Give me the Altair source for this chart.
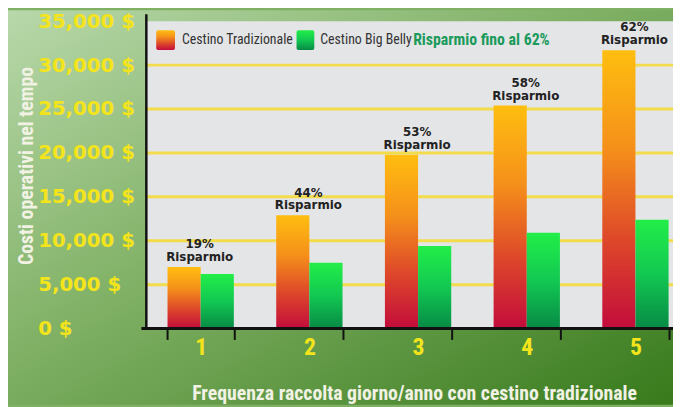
import altair as alt
import pandas as pd

# ---- data ----
categories = ['1', '2', '3', '4', '5']
tradizionale = [7000, 12900, 19800, 25400, 31700]
big_belly = [6200, 7500, 9400, 10900, 12400]
risparmio = ['19%', '44%', '53%', '58%', '62%']
risparmio_word = 'Risparmio'
y_ticks = [0, 5000, 10000, 15000, 20000, 25000, 30000, 35000]
grid_values = [5000, 10000, 15000, 20000, 25000, 30000]
series = ['Tradizionale', 'Big Belly']
legend_labels = ['Cestino Tradizionale', 'Cestino Big Belly']
slogan = 'Risparmio fino al 62%'
x_title = 'Frequenza raccolta giorno/anno con cestino tradizionale'
y_title = 'Costi operativi nel tempo'

rows = []
for c, t, b, r in zip(categories, tradizionale, big_belly, risparmio):
    rows.append({'cat': c, 'serie': series[0], 'value': t, 'pct': r, 'word': risparmio_word})
    rows.append({'cat': c, 'serie': series[1], 'value': b, 'pct': '', 'word': ''})
df = pd.DataFrame(rows)
grid_df = pd.DataFrame({'value': grid_values})
one = pd.DataFrame({'k': [0]})

W, H = 533, 311
YELLOW = '#f4e41c'
CREAM = '#f1f2e4'
NARROW = 'Roboto Condensed, Liberation Sans Narrow, Arial Narrow, Roboto, sans-serif'
WIDE = 'DejaVu Sans, Verdana, sans-serif'

def grad(stops, x2=0, y2=1):
    return alt.LinearGradient(
        gradient='linear',
        stops=[alt.GradientStop(color=c, offset=o) for o, c in stops],
        x1=0, y1=0, x2=x2, y2=y2)

orange_grad = grad([(0, '#ffbe10'), (0.35, '#f5901a'), (0.68, '#de482a'), (1, '#c30c3c')])
green_grad = grad([(0, '#22ee48'), (0.5, '#12c852'), (1, '#078a45')])
bg_grad = grad([(0, '#b8d8aa'), (0.45, '#7fb064'), (1, '#387a1c')], x2=1, y2=1)

xaxis = alt.Axis(
    title=x_title, labelAngle=0, tickBand='extent', tickSize=11, tickWidth=2,
    tickColor='#111', domain=False,
    labelFont=NARROW, labelFontWeight='bold', labelFontSize=24, labelColor=YELLOW,
    labelPadding=-4, labelBaseline='top',
    titleFont=NARROW, titleFontSize=20, titleFontWeight='bold', titleColor=CREAM,
    titleX=271, titleY=72, titleBaseline='alphabetic', titleAlign='center',
    grid=False, zindex=1)

yaxis = alt.Axis(
    title=y_title, values=y_ticks, labelExpr="format(datum.value, ',') + ' $'",
    grid=False, ticks=False, tickSize=0, labelAlign='left', labelPadding=110,
    labelFont=WIDE, labelFontWeight='bold', labelFontSize=20, labelColor=YELLOW,
    labelOverlap=False, domain=False,
    titleFont=NARROW, titleFontSize=20, titleFontWeight='bold', titleColor=CREAM,
    titleX=-121, titleY=146, titleAngle=-90, titleAlign='center', titleBaseline='middle',
    zindex=1)

X = alt.X('cat:N', sort=categories,
          scale=alt.Scale(domain=categories, range=[0, 550], paddingInner=0.39, paddingOuter=0.195),
          axis=xaxis)
XO = alt.XOffset('serie:N', scale=alt.Scale(domain=series, paddingInner=0, paddingOuter=0))
Y = alt.Y('value:Q', scale=alt.Scale(domain=[0, 35000], nice=False), axis=yaxis)

bg = alt.Chart(one).mark_rect(fill=bg_grad).encode(
    x=alt.value(-140), x2=alt.value(W), y=alt.value(-11), y2=alt.value(H + 77))
plot_bg = alt.Chart(one).mark_rect(fill='#e4e5e7').encode(
    x=alt.value(0), x2=alt.value(W), y=alt.value(0), y2=alt.value(H))
grid = alt.Chart(grid_df).mark_rule(color='#f2dc4c', strokeWidth=3).encode(y=Y)

base = alt.Chart(df)
trad_base = base.transform_filter(alt.datum.serie == series[0])
trad = trad_base.mark_bar(fill=orange_grad).encode(x=X, xOffset=XO, y=Y)
big = base.transform_filter(alt.datum.serie == series[1]).mark_bar(fill=green_grad).encode(
    x=X, xOffset=XO, y=Y)
lab_word = trad_base.mark_text(baseline='alphabetic', dy=-6, dx=-1, font=WIDE, fontWeight='bold',
                               fontSize=12, color='#222').encode(x=X, y=Y, text='word:N')
lab_pct = trad_base.mark_text(baseline='alphabetic', dy=-19, dx=-1, font=WIDE, fontWeight='bold',
                              fontSize=12, color='#222').encode(x=X, y=Y, text='pct:N')

y_line = alt.Chart(one).mark_rule(color='#111', strokeWidth=2.5).encode(
    x=alt.value(0), y=alt.value(-7), y2=alt.value(H))
x_line = alt.Chart(one).mark_rule(color='#111', strokeWidth=3).encode(
    x=alt.value(-5), x2=alt.value(W), y=alt.value(H))

leg_r1 = alt.Chart(one).mark_rect(fill=orange_grad, cornerRadius=2).encode(
    x=alt.value(10), x2=alt.value(29), y=alt.value(9), y2=alt.value(29))
leg_t1 = alt.Chart(one).mark_text(text=legend_labels[0], align='left', baseline='middle',
                                  font=NARROW, fontSize=14, color='#333').encode(
    x=alt.value(36), y=alt.value(19))
leg_r2 = alt.Chart(one).mark_rect(fill=green_grad, cornerRadius=2).encode(
    x=alt.value(152), x2=alt.value(170), y=alt.value(9), y2=alt.value(29))
leg_t2 = alt.Chart(one).mark_text(text=legend_labels[1], align='left', baseline='middle',
                                  font=NARROW, fontSize=14, color='#333').encode(
    x=alt.value(176), y=alt.value(19))
leg_t3 = alt.Chart(one).mark_text(text=slogan, align='left', baseline='middle',
                                  font=NARROW, fontSize=16, fontWeight='bold', color='#1b9a5b').encode(
    x=alt.value(270), y=alt.value(19))

chart = alt.layer(bg, plot_bg, grid, trad, big, lab_word, lab_pct, y_line, x_line,
                  leg_r1, leg_t1, leg_r2, leg_t2, leg_t3).properties(
    width=W, height=H, autosize='none',
    padding={'left': 140, 'top': 11, 'right': 0, 'bottom': 77},
    background='#7fb064'
).configure_view(stroke=None)

chart.save('out.html', embed_options={'renderer': 'svg', 'actions': False})
